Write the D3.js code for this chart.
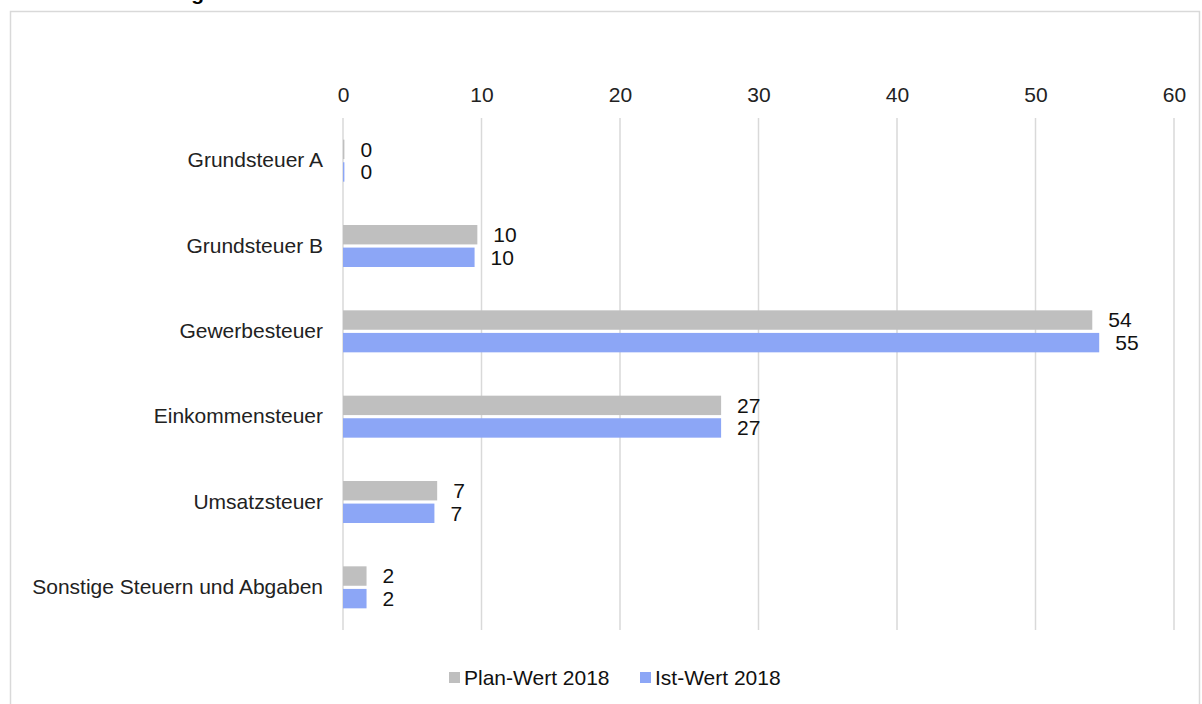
<!DOCTYPE html>
<html><head><meta charset="utf-8">
<script src="https://cdn.jsdelivr.net/npm/d3@7"></script>
<style>body{margin:0;background:#fff;}svg{display:block;font-family:Arial,"Liberation Sans",sans-serif;}</style>
</head><body>
<svg id="chart" width="1202" height="704"></svg>
<script>
const categories = ["Grundsteuer A","Grundsteuer B","Gewerbesteuer","Einkommensteuer","Umsatzsteuer","Sonstige Steuern und Abgaben"];
const planValues = [0.1, 9.7, 54.1, 27.3, 6.8, 1.7];
const istValues  = [0.1, 9.5, 54.6, 27.3, 6.6, 1.7];
const seriesNames = ["Plan-Wert 2018","Ist-Wert 2018"];
const tickValues = [0,10,20,30,40,50,60];
const titleText = "Steuern und Ertragsanteile";

const colors = ["#bfbfbf","#8ca6f6"];
const FS = 21;
const FONT = "Arial, 'Liberation Sans', sans-serif";
const svg = d3.select("#chart");

// frame
svg.append("rect").attr("x",10.5).attr("y",11.5).attr("width",1189).attr("height",700)
  .attr("fill","#fff").attr("stroke","#d9d9d9").attr("stroke-width",1.5);

// title (clipped at the top as in the original)
svg.append("text").attr("x",14).attr("y",0).attr("font-weight","bold").attr("font-size",FS)
  .attr("fill","#000").text(titleText);

const x = d3.scaleLinear().domain([0,60]).range([343,1174]);
const y = d3.scaleBand().domain(categories).range([118,630]);
const inner = d3.scaleBand().domain([0,1]).range([y.bandwidth()/2-21, y.bandwidth()/2+21]).paddingInner(0.14);

// grid
svg.append("g").selectAll("line").data(tickValues).join("line")
  .attr("x1",d=>x(d)).attr("x2",d=>x(d)).attr("y1",118).attr("y2",630)
  .attr("stroke","#d9d9d9").attr("stroke-width",1.5);

// top axis labels
const ax = svg.append("g").attr("transform","translate(0,102)")
  .call(d3.axisTop(x).tickValues(tickValues).tickSize(0).tickPadding(0));
ax.select(".domain").remove();
ax.selectAll("text").attr("font-size",FS).attr("fill","#222").attr("font-family",FONT).attr("dy",0);

// category labels
const ay = svg.append("g").attr("transform","translate(323,0)")
  .call(d3.axisLeft(y).tickSize(0).tickPadding(0));
ay.select(".domain").remove();
ay.selectAll("text").attr("font-size",FS).attr("fill","#222").attr("font-family",FONT);

const series = [planValues, istValues];
series.forEach((vals,si)=>{
  const g = svg.append("g");
  g.selectAll("rect").data(vals).join("rect")
    .attr("x",x(0)).attr("y",(d,i)=>y(categories[i])+inner(si))
    .attr("width",d=>x(d)-x(0)).attr("height",inner.bandwidth())
    .attr("fill",colors[si]);
  g.selectAll("text").data(vals).join("text")
    .attr("x",d=>x(d)+16).attr("y",(d,i)=>y(categories[i])+inner(si)+inner.bandwidth()/2)
    .attr("dy","0.35em").attr("font-size",FS).attr("fill","#111")
    .text(d=>d3.format(".0f")(d));
});

// legend
const legendX = [449,640];
const lg = svg.append("g");
seriesNames.forEach((n,i)=>{
  lg.append("rect").attr("x",legendX[i]).attr("y",672).attr("width",11).attr("height",11).attr("fill",colors[i]);
  lg.append("text").attr("x",legendX[i]+15).attr("y",677.5).attr("dy","0.35em")
    .attr("font-size",FS).attr("fill","#111").text(n);
});
</script>
</body></html>
